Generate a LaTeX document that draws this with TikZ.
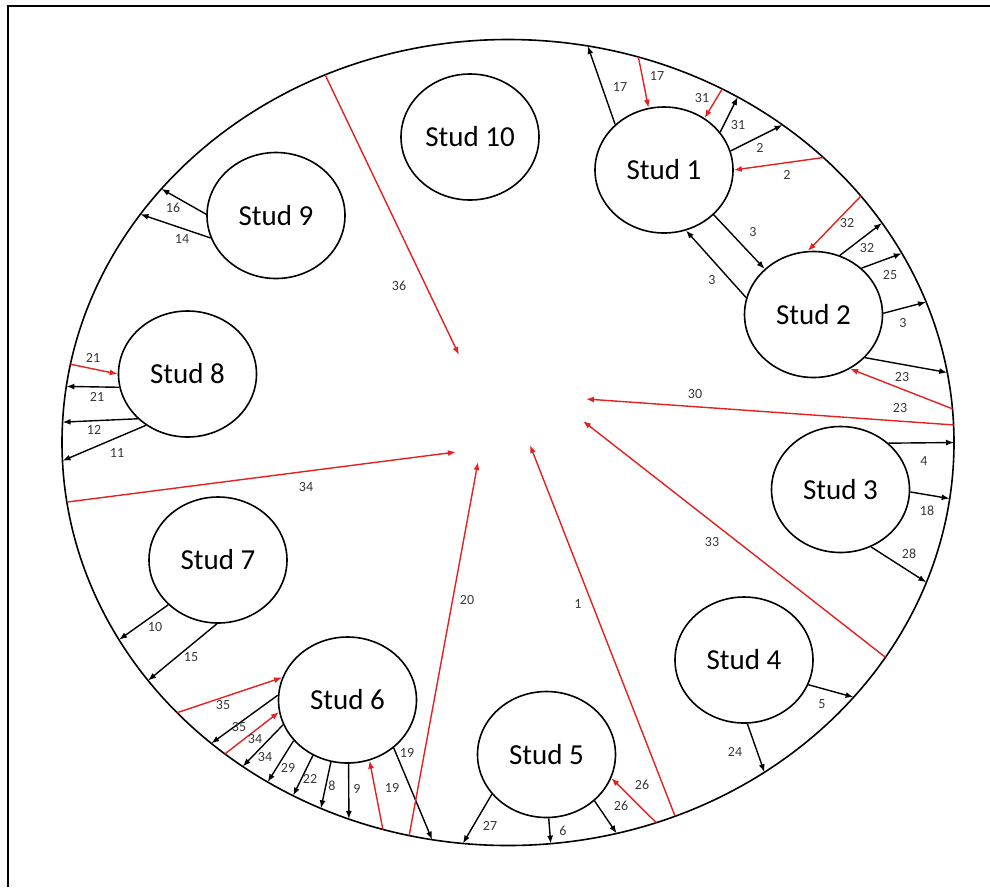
\documentclass[tikz,border=0pt]{standalone}
\usepackage{fontspec}
\setmainfont{Carlito}
\usetikzlibrary{shapes.geometric,arrows.meta}
\definecolor{flowred}{RGB}{228,32,32}
\definecolor{labgray}{RGB}{55,55,55}
\begin{document}
\begin{tikzpicture}[x=1pt,y=-1pt,
  stud/.style={ellipse,draw,line width=1.6pt,minimum width=138pt,minimum height=126pt,
    inner sep=0pt,font=\fontsize{29}{29}\selectfont},
  blk/.style={draw=black,line width=1.4pt,-{Latex[length=8pt,width=6pt]}},
  rd/.style={draw=flowred,line width=1.4pt,-{Latex[length=8pt,width=6pt]}},
  lab/.style={font=\fontsize{14}{14}\selectfont,text=labgray,inner sep=0pt}]
\useasboundingbox (0,0) rectangle (990,887);
% frame
\draw[line width=2pt] (7.5,887) -- (7.5,6) -- (990,6);
% rim
\coordinate (C) at (508,442.5);
\draw[line width=1.6pt] (C) ellipse [x radius=446pt, y radius=403pt];
\newcommand\rimpt[2]{\path (C) ++(#2:446 and 403) coordinate (#1);}
\rimpt{r17b}{-79.7}\rimpt{r17r}{-73}\rimpt{r31r}{-61.3}\rimpt{r31b}{-59}
\rimpt{r2b}{-52}\rimpt{r2r}{-45}\rimpt{r32r}{-37.7}\rimpt{r32b}{-33}
\rimpt{r25}{-28}\rimpt{r3}{-20.4}\rimpt{r23b}{-10}\rimpt{r23r}{-4.8}
\rimpt{r30}{-2.5}\rimpt{r4}{0}\rimpt{r18}{8}\rimpt{r28}{20.3}
\rimpt{r33}{32.2}\rimpt{r5}{39.2}\rimpt{r24}{54.9}\rimpt{r1}{68}
\rimpt{r26r}{70.6}\rimpt{r26b}{75.9}\rimpt{r6}{84.5}\rimpt{r27}{95.8}
\rimpt{r19b}{99.8}\rimpt{r20}{102.8}\rimpt{r19r}{106.3}\rimpt{r9}{110.9}
\rimpt{r8}{114.8}\rimpt{r22}{118.8}\rimpt{r29}{122.6}\rimpt{r34b}{126.5}
\rimpt{r34r}{129.4}\rimpt{r35b}{131.7}\rimpt{r35r}{137.9}\rimpt{r15}{143.8}
\rimpt{r10}{150.7}\rimpt{r34c}{171.5}\rimpt{r11}{177.4}\rimpt{r12}{182.9}
\rimpt{r21b}{188}\rimpt{r21r}{191.2}\rimpt{r14}{214.5}\rimpt{r16}{219}
\rimpt{r36}{245.8}
% targets in the middle
\coordinate (c36) at (459,355);
\coordinate (c34) at (456,452);
\coordinate (c20) at (478,462);
\coordinate (c1)  at (530,445);
\coordinate (c33) at (583,421);
\coordinate (c30) at (586,399);
% studs
\node[stud] (s1)  at (664,170)   {Stud 1};
\node[stud] (s2)  at (813.5,314.5) {Stud 2};
\node[stud] (s3)  at (840.5,489.5) {Stud 3};
\node[stud] (s4)  at (744,660)   {Stud 4};
\node[stud] (s5)  at (546.5,754.5) {Stud 5};
\node[stud] (s6)  at (347.5,700) {Stud 6};
\node[stud] (s7)  at (218,560)   {Stud 7};
\node[stud] (s8)  at (187.5,374) {Stud 8};
\node[stud] (s9)  at (276,215.5) {Stud 9};
\node[stud] (s10) at (470,137)   {Stud 10};
% Stud 1
\draw[blk] (s1.137) -- (r17b);
\draw[rd]  (r17r) -- (s1.104);
\draw[rd]  (r31r) -- (s1.52);
\draw[blk] (s1.34) -- (r31b);
\draw[blk] (s1.16) -- (r2b);
\draw[rd]  (r2r) -- (s1.0);
\draw[blk] (s1.-42) -- (s2.137);
\draw[blk] (s2.166) -- (s1.-70);
% Stud 2
\draw[rd]  (r32r) -- (s2.95);
\draw[blk] (s2.66) -- (r32b);
\draw[blk] (s2.44) -- (r25);
\draw[blk] (s2.1) -- (r3);
\draw[blk] (s2.-40) -- (r23b);
\draw[rd]  (r23r) -- (s2.-56);
\draw[rd]  (r30) -- (c30);
% Stud 3
\draw[blk] (s3.44) -- (r4);
\draw[blk] (s3.-2) -- (r18);
\draw[blk] (s3.-62) -- (r28);
\draw[rd]  (r33) -- (c33);
% Stud 4
\draw[blk] (s4.-21) -- (r5);
\draw[blk] (s4.-87) -- (r24);
\draw[rd]  (r1) -- (c1);
% Stud 5
\draw[rd]  (r26r) -- (s5.-20);
\draw[blk] (s5.-44) -- (r26b);
\draw[blk] (s5.-88) -- (r6);
\draw[blk] (s5.216) -- (r27);
% Stud 6
\draw[blk] (s6.-46) -- (r19b);
\draw[rd]  (r20) -- (c20);
\draw[rd]  (r19r) -- (s6.-70);
\draw[blk] (s6.-89) -- (r9);
\draw[blk] (s6.-105) -- (r8);
\draw[blk] (s6.-122) -- (r22);
\draw[blk] (s6.-143) -- (r29);
\draw[blk] (s6.-159) -- (r34b);
\draw[rd]  (r34r) -- (s6.-170);
\draw[blk] (s6.176) -- (r35b);
\draw[rd]  (r35r) -- (s6.161);
% Stud 7
\draw[blk] (s7.222) -- (r10);
\draw[blk] (s7.-91) -- (r15);
\draw[rd]  (r34c) -- (c34);
% Stud 8
\draw[rd]  (r21r) -- (s8.180);
\draw[blk] (s8.191) -- (r21b);
\draw[blk] (s8.222) -- (r12);
\draw[blk] (s8.231) -- (r11);
% Stud 9
\draw[blk] (s9.179) -- (r16);
\draw[blk] (s9.199) -- (r14);
\draw[rd]  (r36) -- (c36);
% labels
\node[lab] (l17b) at (620,87) {17};
\node[lab] (l17r) at (657,76) {17};
\node[lab] (l31r) at (702,98) {31};
\node[lab] (l31b) at (738,125) {31};
\node[lab] (l2b) at (760,148) {2};
\node[lab] (l2r) at (787,175) {2};
\node[lab] (l3a) at (753,232) {3};
\node[lab] (l3b) at (712,280) {3};
\node[lab] (l32r) at (847,223) {32};
\node[lab] (l32b) at (867,248) {32};
\node[lab] (l25) at (890,275) {25};
\node[lab] (l3c) at (903,323) {3};
\node[lab] (l23b) at (902,377) {23};
\node[lab] (l23r) at (900,408) {23};
\node[lab] (l30) at (695,394) {30};
\node[lab] (l4) at (924,461) {4};
\node[lab] (l18) at (927,511) {18};
\node[lab] (l28) at (909,554) {28};
\node[lab] (l33) at (712,542) {33};
\node[lab] (l1) at (578,604) {1};
\node[lab] (l5) at (822,704) {5};
\node[lab] (l24) at (735,752) {24};
\node[lab] (l26r) at (642,785) {26};
\node[lab] (l26b) at (621,806) {26};
\node[lab] (l6) at (563,831) {6};
\node[lab] (l27) at (490,826) {27};
\node[lab] (l19b) at (407,753) {19};
\node[lab] (l19r) at (392,788) {19};
\node[lab] (l20) at (467,600) {20};
\node[lab] (l9) at (357,789) {9};
\node[lab] (l8) at (332,786) {8};
\node[lab] (l22) at (310,779) {22};
\node[lab] (l29) at (288,768) {29};
\node[lab] (l34b) at (265,757) {34};
\node[lab] (l34r) at (255,739) {34};
\node[lab] (l35b) at (239,727) {35};
\node[lab] (l35r) at (223,705) {35};
\node[lab] (l10) at (155,627) {10};
\node[lab] (l15) at (191,657) {15};
\node[lab] (l36) at (399,286) {36};
\node[lab] (l34c) at (306,487) {34};
\node[lab] (l21r) at (93,358) {21};
\node[lab] (l21b) at (97,397) {21};
\node[lab] (l12) at (94,430) {12};
\node[lab] (l11) at (117,453) {11};
\node[lab] (l16) at (173,208) {16};
\node[lab] (l14) at (182,239) {14};
\end{tikzpicture}
\end{document}
